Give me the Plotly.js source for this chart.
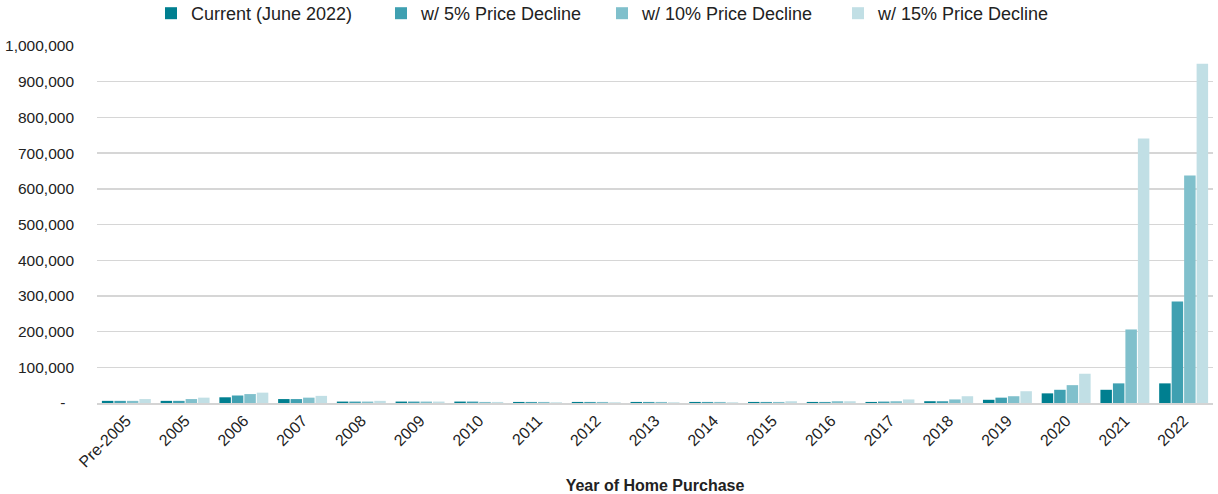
<!DOCTYPE html>
<html>
<head>
<meta charset="utf-8">
<script src="https://cdn.plot.ly/plotly-3.0.1.min.js"></script>
<style>html,body{margin:0;padding:0;background:#fff;}#chart{width:1218px;height:494px;}</style>
</head>
<body>
<div id="chart"></div>
<script>
var categories = ['Pre-2005','2005','2006','2007','2008','2009','2010','2011','2012','2013','2014','2015','2016','2017','2018','2019','2020','2021','2022'];
var seriesNames = ['Current (June 2022)','w/ 5% Price Decline','w/ 10% Price Decline','w/ 15% Price Decline'];
var current   = [6000, 6000, 16000, 11000, 4000, 4000, 4000, 3000, 3000, 3000, 3000, 3000, 3000, 3000, 5000, 9000, 27000, 37000, 55000];
var decline5  = [6000, 6000, 21000, 11000, 4000, 4000, 4000, 3000, 3000, 3000, 3000, 3000, 3000, 4000, 5000, 15000, 37000, 55000, 284000];
var decline10 = [6000, 11000, 25000, 15000, 4000, 4000, 3000, 3000, 3000, 3000, 3000, 3000, 5000, 5000, 10000, 19000, 50000, 206000, 637000];
var decline15 = [11000, 15000, 29000, 20000, 6000, 4000, 3000, 2000, 2000, 2000, 2000, 5000, 5000, 10000, 19000, 33000, 82000, 741000, 950000];
var yTickVals = [0,100000,200000,300000,400000,500000,600000,700000,800000,900000,1000000];
var yTickText = ['-\u00a0\u00a0','100,000','200,000','300,000','400,000','500,000','600,000','700,000','800,000','900,000','1,000,000'];
var xTitle = 'Year of Home Purchase';

var colors = ['#007f90','#3fa0b1','#80c0cc','#c1dfe5'];
var values = [current, decline5, decline10, decline15];
var legendIds = ['legend','legend2','legend3','legend4'];
var legendX = [172, 402, 623, 859];

var traces = values.map(function(v, i){
  return {
    type: 'bar', name: seriesNames[i], x: categories, y: v,
    marker: {color: colors[i]}, legend: legendIds[i], hoverinfo: 'x+y+name'
  };
});

var font = {family: '"Liberation Sans", Arial, sans-serif', color: '#222'};
var layout = {
  width: 1218, height: 494,
  margin: {l: 97, r: 5, t: 46, b: 91},
  paper_bgcolor: '#fff', plot_bgcolor: '#fff',
  font: font,
  barmode: 'group', bargap: 0.15, bargroupgap: 0.08,
  showlegend: true,
  xaxis: {
    type: 'category', tickangle: -45, tickfont: {size: 16, family: font.family, color: '#222'},
    showgrid: false, showline: true, linecolor: '#d4d4d4', linewidth: 2, ticks: '',
    title: {text: '<b>' + xTitle + '</b>', font: {size: 16, family: font.family, color: '#222'}, standoff: 14}
  },
  yaxis: {
    range: [0, 1000000], tickvals: yTickVals, ticktext: yTickText,
    tickfont: {size: 15.5, family: font.family, color: '#222'},
    showgrid: true, gridcolor: '#d6d6d6', gridwidth: 1.4, zeroline: false,
    ticks: '', ticklabelstandoff: 22, fixedrange: true
  }
};
legendIds.forEach(function(id, i){
  layout[id] = {
    orientation: 'h', xref: 'container', yref: 'container',
    x: (legendX[i] - 21) / 1218, xanchor: 'left', y: 1 - 13.5 / 494, yanchor: 'middle',
    font: {size: 18, family: font.family, color: '#222'},
    bgcolor: 'rgba(0,0,0,0)', itemwidth: 30, tracegroupgap: 0
  };
});

Plotly.newPlot('chart', traces, layout, {displayModeBar: false, staticPlot: true});
</script>
</body>
</html>
